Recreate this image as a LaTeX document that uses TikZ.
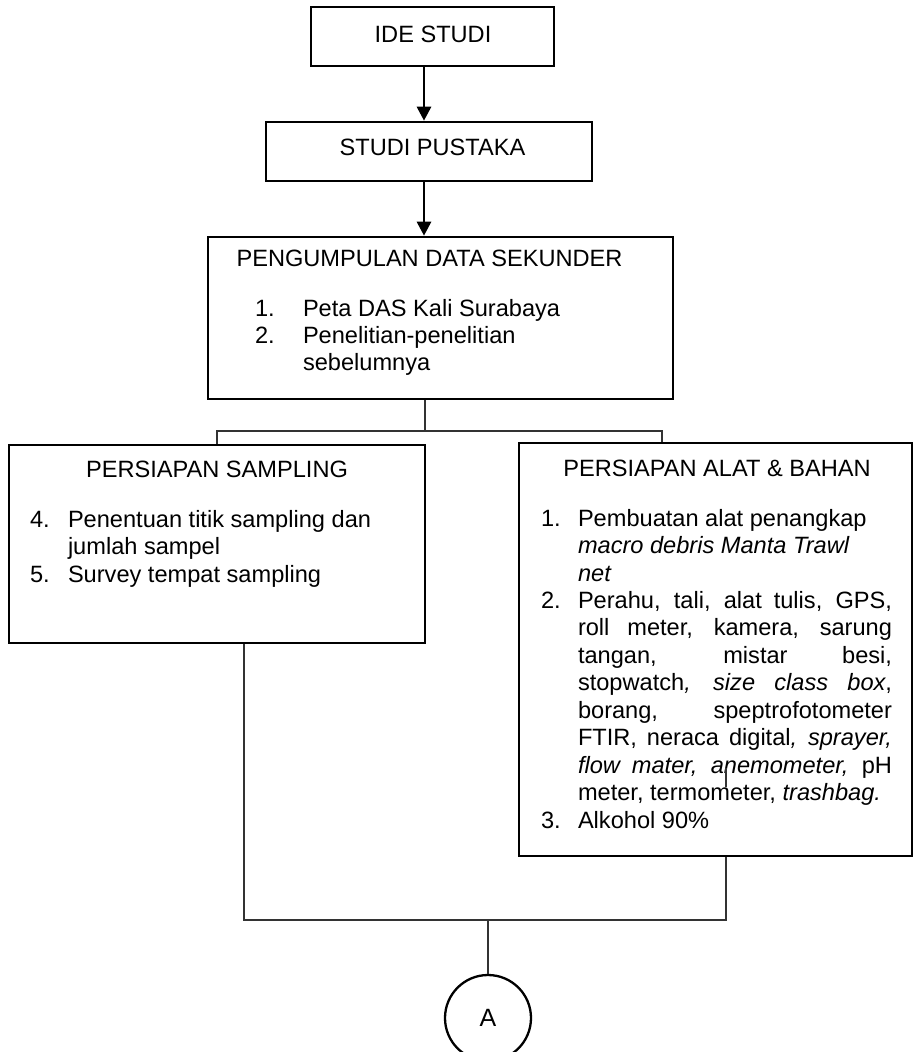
\documentclass[tikz,border=0pt]{standalone}
\usepackage{fontspec}
\setmainfont{Liberation Sans}
\usetikzlibrary{arrows.meta}
\tikzset{
  box/.style={draw=black, line width=2.6pt, rectangle, inner sep=0pt, fill=white},
  arr/.style={draw=black, line width=2.8pt, -{Triangle[width=14pt,length=14pt]}},
  conn/.style={draw=black!80, line width=1.4pt},
  txt/.style={anchor=base west, inner sep=0pt, outer sep=0pt},
  ttl/.style={anchor=base, inner sep=0pt, outer sep=0pt},
}
\newcommand{\jline}[1]{\makebox[314pt][s]{#1}}
\begin{document}
\begin{tikzpicture}[x=1pt, y=-1pt, font=\fontsize{23.6pt}{27pt}\selectfont]
\useasboundingbox (0,0) rectangle (916,1052);
\clip (0,0) rectangle (916,1052);
\fill[white] (0,0) rectangle (916,1052);

% boxes
\node[box, minimum width=243pt, minimum height=59pt] (ide) at (432.5,36.5) {};
\node[box, minimum width=326pt, minimum height=59pt] (pustaka) at (429,151.5) {};
\node[box, minimum width=465pt, minimum height=162pt] (kumpul) at (440.5,318) {};
\node[box, minimum width=416pt, minimum height=198pt] (sampling) at (217,544) {};
\node[box, minimum width=393pt, minimum height=413pt] (alat) at (715.5,649.5) {};
\node[draw=black, line width=2.3pt, circle, minimum size=86pt, inner sep=0pt, font=\fontsize{25pt}{27pt}\selectfont] (A) at (488,1018) {A};

% titles
\node[ttl] (ideT) at (433,42) {IDE STUDI};
\node[ttl] (pustakaT) at (432.5,155) {STUDI PUSTAKA};
\node[ttl] (kumpulT) at (429.5,266) {PENGUMPULAN DATA SEKUNDER};
\node[ttl] (samplingT) at (217,477) {PERSIAPAN SAMPLING};
\node[ttl] (alatT) at (717,476) {PERSIAPAN ALAT \& BAHAN};

% pengumpulan list
\node[txt] (k1n) at (255,316) {1.};
\node[txt] (k1) at (303,316) {Peta DAS Kali Surabaya};
\node[txt] (k2n) at (255,343) {2.};
\node[txt] (k2) at (303,343) {Penelitian-penelitian};
\node[txt] (k2b) at (303,370) {sebelumnya};

% sampling list
\node[txt] (s4n) at (30,527) {4.};
\node[txt] (s4) at (68,527) {Penentuan titik sampling dan};
\node[txt] (s4b) at (68,554) {jumlah sampel};
\node[txt] (s5n) at (30,582) {5.};
\node[txt] (s5) at (68,582) {Survey tempat sampling};

% alat list
\node[txt] (a1n) at (541,526) {1.};
\node[txt] (a1) at (578,526) {Pembuatan alat penangkap};
\node[txt] (a1b) at (578,553.5) {\itshape macro debris Manta Trawl};
\node[txt] (a1c) at (578,581) {\itshape net};
\node[txt] (a2n) at (541,608.4) {2.};
\node[txt] (a2) at (578,608.4) {\jline{Perahu, tali, alat tulis, GPS,}};
\node[txt] (a2b) at (578,635.8) {\jline{roll meter, kamera, sarung}};
\node[txt] (a2c) at (578,663.3) {\jline{tangan, mistar besi,}};
\node[txt] (a2d) at (578,690.7) {\jline{stopwatch\textit{,} \textit{size class box},}};
\node[txt] (a2e) at (578,718.2) {\jline{borang, speptrofotometer}};
\node[txt] (a2f) at (578,745.6) {\jline{FTIR, neraca digital\textit{, sprayer,}}};
\node[txt] (a2g) at (578,773) {\jline{\textit{flow mater, anemometer,} pH}};
\node[txt] (a2h) at (578,800.5) {meter, termometer, \textit{trashbag.}};
\node[txt] (a3n) at (541,828) {3.};
\node[txt] (a3) at (578,828) {Alkohol 90\%};

% arrows
\coordinate (ax) at (424,0);
\draw[arr] (ide.south -| ax) -- (pustaka.north -| ax);
\draw[arr] (pustaka.south -| ax) -- (kumpul.north -| ax);

% top branching
\coordinate (j1) at (425,431);
\coordinate (sx) at (217,431);
\coordinate (rx) at (662,431);
\draw[conn] (kumpul.south -| j1) -- (j1);
\draw[conn] (sampling.north -| sx) -- (sx) -- (rx) -- (alat.north -| rx);

% bottom joining
\coordinate (bl) at (244,920);
\coordinate (br) at (726,920);
\coordinate (bc) at (488,920);
\draw[conn] (sampling.south -| bl) -- (bl) -- (br) -- (alat.south -| br);
\draw[conn] (bc) -- (A.north);

% short stray stroke inside the right box
\coordinate (st1) at (726,768);
\coordinate (st2) at (726,787);
\draw[conn] (st1) -- (st2);
\end{tikzpicture}
\end{document}
